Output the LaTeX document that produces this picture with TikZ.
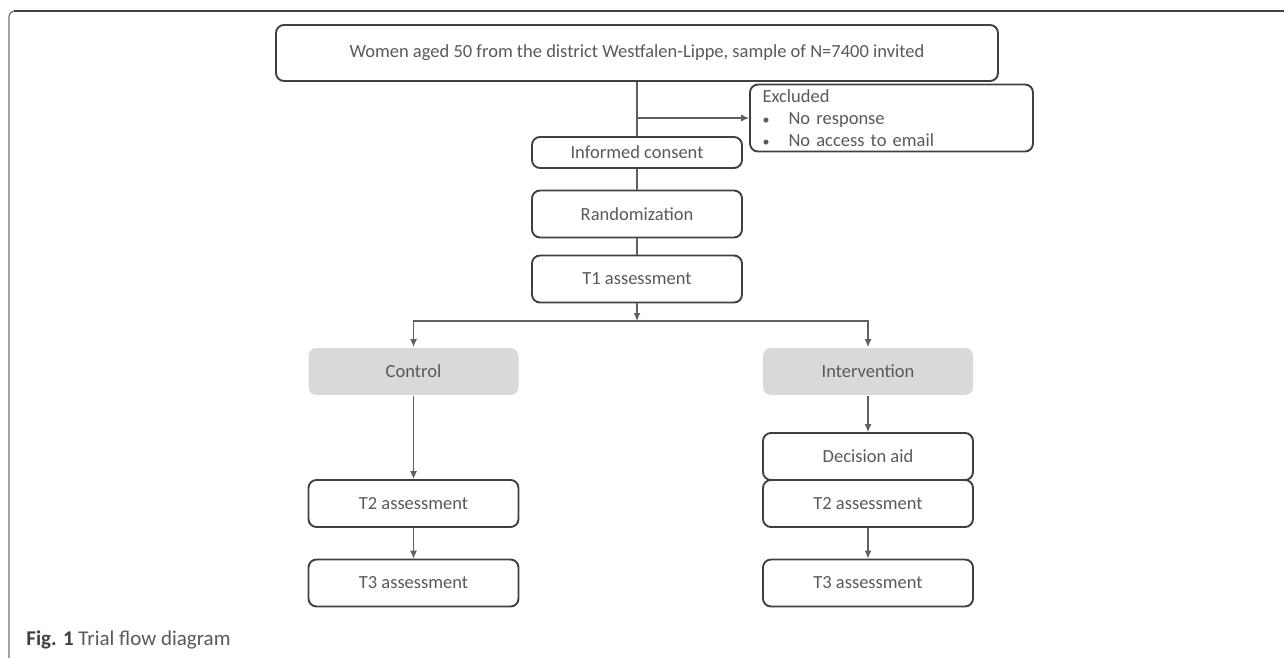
\documentclass[tikz,border=0pt]{standalone}
\usepackage{fontspec}
\setmainfont{Carlito}
\usetikzlibrary{arrows.meta}
\definecolor{boxgray}{HTML}{404040}
\definecolor{txtgray}{HTML}{595959}
\definecolor{linegray}{HTML}{606060}
\definecolor{armgray}{HTML}{D9D9D9}
\definecolor{framegray}{HTML}{707070}
\begin{document}
\begin{tikzpicture}[x=0.5pt, y=-0.5pt,
	box/.style={draw=boxgray, line width=0.95pt, rounded corners=4pt, text=txtgray, inner sep=0pt,
		minimum width=105pt, minimum height=23.5pt, font=\fontsize{9.25}{11}\selectfont},
	arm/.style={box, draw=none, fill=armgray},
	conn/.style={draw=linegray, line width=0.55pt},
	>={Latex[length=4pt, width=3.5pt]}]
	\useasboundingbox (0,0) rectangle (1284,658);
	\draw[framegray, line width=0.6pt, rounded corners=3pt] (9,658) -- (9,11) -- (1284,11);
	\draw[boxgray, line width=0.8pt] (14,11) -- (1284,11);

	\node[box, minimum width=361pt, minimum height=28pt](A) at (637,53){Women aged 50 from the district Westfalen-Lippe, sample of N=7400 invited};
	\node[box, minimum width=141.5pt, minimum height=33.5pt, text width=129pt, align=left](B) at (891.5,118){Excluded\\
		\makebox[13pt][l]{\scriptsize\textbullet}No response\\
		\makebox[13pt][l]{\scriptsize\textbullet}No access to email};
	\node[box, minimum height=15.5pt](C) at (637,152.5){Informed consent};
	\node[box](D) at (637,214){Randomization};
	\node[box](E) at (637,279){T1 assessment};
	\node[arm](F) at (413.5,371.5){Control};
	\node[arm](G) at (868,371.5){Intervention};
	\node[box](H) at (413.5,503.5){T2 assessment};
	\node[box](I) at (413.5,583){T3 assessment};
	\node[box](L) at (868,456.5){Decision aid};
	\node[box](M) at (868,503.5){T2 assessment};
	\node[box](N) at (868,583){T3 assessment};
	\node[anchor=west, inner sep=0pt, text=txtgray, font=\fontsize{10.5}{12}\selectfont](Z) at (26,640){\textcolor{boxgray}{\textbf{Fig. 1}} Trial flow diagram};
	\coordinate (K) at (637,118);
	\coordinate (J) at (637,321);

	\draw[conn] (A) -- (C);
	\draw[conn, ->] (K) -- (B);
	\draw[conn] (C) -- (D);
	\draw[conn] (D) -- (E);
	\draw[conn, ->] (E) -- (J);
	\draw[conn, ->] (J) -| (F);
	\draw[conn, ->] (J) -| (G);
	\draw[conn, ->] (F) -- (H);
	\draw[conn, ->] (H) -- (I);
	\draw[conn, ->] (G) -- (L);
	\draw[conn, ->] (M) -- (N);
\end{tikzpicture}
\end{document}
